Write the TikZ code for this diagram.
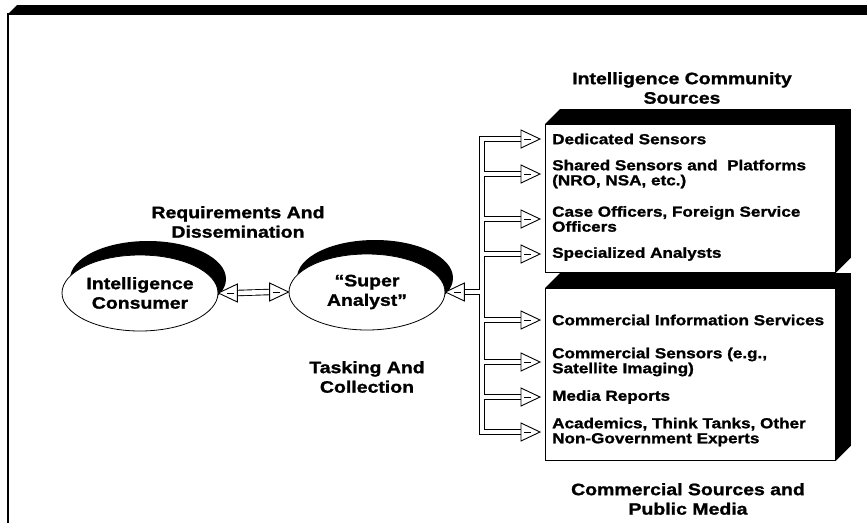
\documentclass[tikz,border=0pt]{standalone}
\usepackage{fontspec}
\setmainfont{Liberation Sans}[FakeStretch=1.18, BoldFeatures={FakeBold=1.3}]
\usetikzlibrary{shapes.geometric,shadows,calc}

\tikzset{
  lbl/.style={font=\bfseries\fontsize{16.5}{19.5}\selectfont, align=center},
  item/.style={font=\bfseries\fontsize{14.5}{15}\selectfont, align=left, anchor=west, inner sep=3pt},
  blob/.style={ellipse, draw, line width=0.8pt, fill=white, minimum width=156pt, minimum height=76pt,
    inner sep=0pt, general shadow={fill=black, shadow xshift=8pt, shadow yshift=14pt}, lbl},
  srcbox/.style={draw, line width=0.8pt, fill=white, minimum width=290pt, anchor=north west},
  head/.style={draw, line width=0.9pt, fill=white, line join=miter},
}
\newcommand\srctip[2]{%
  \draw[head] (#1) -- ++({-19*#2},9) -- ++(0,-18) -- cycle;
  \draw[line width=0.7pt] ($(#1)+({-16*#2},0)$) -- ++({7*#2},0);}

\begin{document}
\begin{tikzpicture}[x=1pt, y=-1pt]
\useasboundingbox (0,0) rectangle (867,523);
\fill (8,14) -- (17,5) -- (867,5) -- (867,14) -- cycle;
\draw[line width=1.6pt] (8,523) -- (8,14) -- (867,14);

\node[blob] (ic) at (140,293) {Intelligence\\Consumer};
\node[blob] (sa) at (367,292) {“Super\\Analyst”};
\node[lbl] (req) at (238,222) {Requirements And\\Dissemination};
\node[lbl] (task) at (367,377) {Tasking And\\Collection};

\node[srcbox, minimum height=148pt] (icbox) at (545,124) {};
\node[srcbox, minimum height=172pt] (cbox) at (545,288) {};
\foreach \b in {icbox, cbox}
  \fill (\b.north west) -- ++(15,-15) -- ($(\b.north east)+(15,-15)$)
    -- ($(\b.south east)+(15,-15)$) -- (\b.south east) -- (\b.north east) -- cycle;
\node[lbl] (ictitle) at (682,88) {Intelligence Community\\Sources};
\node[lbl] (ctitle) at (688,499) {Commercial Sources and\\Public Media};

\foreach \n/\y/\t in {ded/139/{Dedicated Sensors},
    shr/174/{Shared Sensors and\ \ Platforms\\(NRO, NSA, etc.)},
    cas/219/{Case Officers, Foreign Service\\Officers},
    spe/254/{Specialized Analysts},
    cin/320/{Commercial Information Services},
    cse/362/{Commercial Sensors (e.g.,\\Satellite Imaging)},
    med/397/{Media Reports},
    aca/432/{Academics, Think Tanks, Other\\Non-Government Experts}}
  \node[item] (\n) at (549,\y) {\t};

\coordinate (bus) at (482,0);
\foreach \c/\w in {black/6.4pt, white/4.6pt} {
  \draw[\c, line width=\w, line cap=rect] (bus |- ded) -- (bus |- aca);
  \foreach \n in {ded,shr,cas,spe,cin,cse,med,aca}
    \draw[\c, line width=\w, line cap=rect] (bus |- \n) -- ($(\n.west)+(-28,0)$);
  \draw[\c, line width=\w, line cap=rect] (bus |- sa) -- ($(sa.east)+(19,0)$);
  \draw[\c, line width=\w, line cap=rect] ($(ic.east)+(19,0)$) -- ($(sa.west)+(-19,0)$);
}
\foreach \n in {ded,shr,cas,spe,cin,cse,med,aca}
  \srctip{$(\n.west)+(-9,0)$}{1};
\srctip{sa.east}{-1}
\srctip{sa.west}{1}
\srctip{ic.east}{-1}
\end{tikzpicture}
\end{document}
